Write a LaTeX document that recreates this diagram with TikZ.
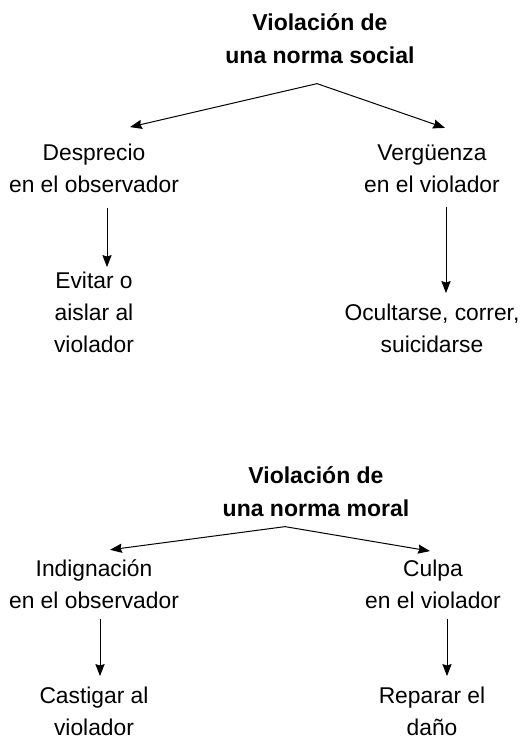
\documentclass[tikz,border=0pt]{standalone}
\usepackage{fontspec}
\setmainfont{Liberation Sans}
\usetikzlibrary{arrows.meta}
\tikzset{
  font=\fontsize{11.4}{16}\selectfont
}

\begin{document}
\begin{tikzpicture}[x=0.5pt,y=-0.5pt,
  texto/.style={align=center,inner sep=0pt,anchor=base},
  titulo/.style={texto,font=\fontsize{11.5}{16.5}\selectfont\bfseries},
  flecha/.style={-{Stealth[length=6pt,width=4.6pt,inset=0.7pt]},line width=0.5pt}]
\useasboundingbox (0,0) rectangle (527,738);
% norma social
\node[titulo] (social) at (320,64) {Violación de\\una norma social};
\node[texto] (desprecio) at (94,192) {Desprecio\\en el observador};
\node[texto] (verguenza) at (432,192) {Vergüenza\\en el violador};
\node[texto] (evitar) at (94,352) {Evitar o\\aislar al\\violador};
\node[texto] (ocultarse) at (432,352) {Ocultarse, correr,\\suicidarse};
\draw[flecha] ([xshift=-1.5pt,yshift=-9.5pt]social.south) -- ([xshift=18pt,yshift=8pt]desprecio.north);
\draw[flecha] ([xshift=-1.5pt,yshift=-9.5pt]social.south) -- ([xshift=6.5pt,yshift=8pt]verguenza.north);
\draw[flecha] ([xshift=6.5pt,yshift=-7.5pt]desprecio.south) -- ([xshift=6.5pt,yshift=2pt]evitar.north);
\draw[flecha] ([xshift=7pt,yshift=-7pt]verguenza.south) -- ([xshift=7pt,yshift=5pt]ocultarse.north);
% norma moral
\node[titulo] (moral) at (316,516) {Violación de\\una norma moral};
\node[texto] (indignacion) at (94,608) {Indignación\\en el observador};
\node[texto] (culpa) at (433,608) {Culpa\\en el violador};
\node[texto] (castigar) at (94,735) {Castigar al\\violador};
\node[texto] (reparar) at (432,735) {Reparar el\\daño};
\draw[flecha] ([xshift=-15.5pt,yshift=-5pt]moral.south) -- ([xshift=8pt,yshift=4.5pt]indignacion.north);
\draw[flecha] ([xshift=-15.5pt,yshift=-5pt]moral.south) -- ([xshift=-1.5pt,yshift=4pt]culpa.north);
\draw[flecha] ([xshift=3pt,yshift=-5pt]indignacion.south) -- ([xshift=3pt,yshift=5pt]castigar.north);
\draw[flecha] ([xshift=7pt,yshift=-5pt]culpa.south) -- ([xshift=7.5pt,yshift=5pt]reparar.north);
\end{tikzpicture}
\end{document}
